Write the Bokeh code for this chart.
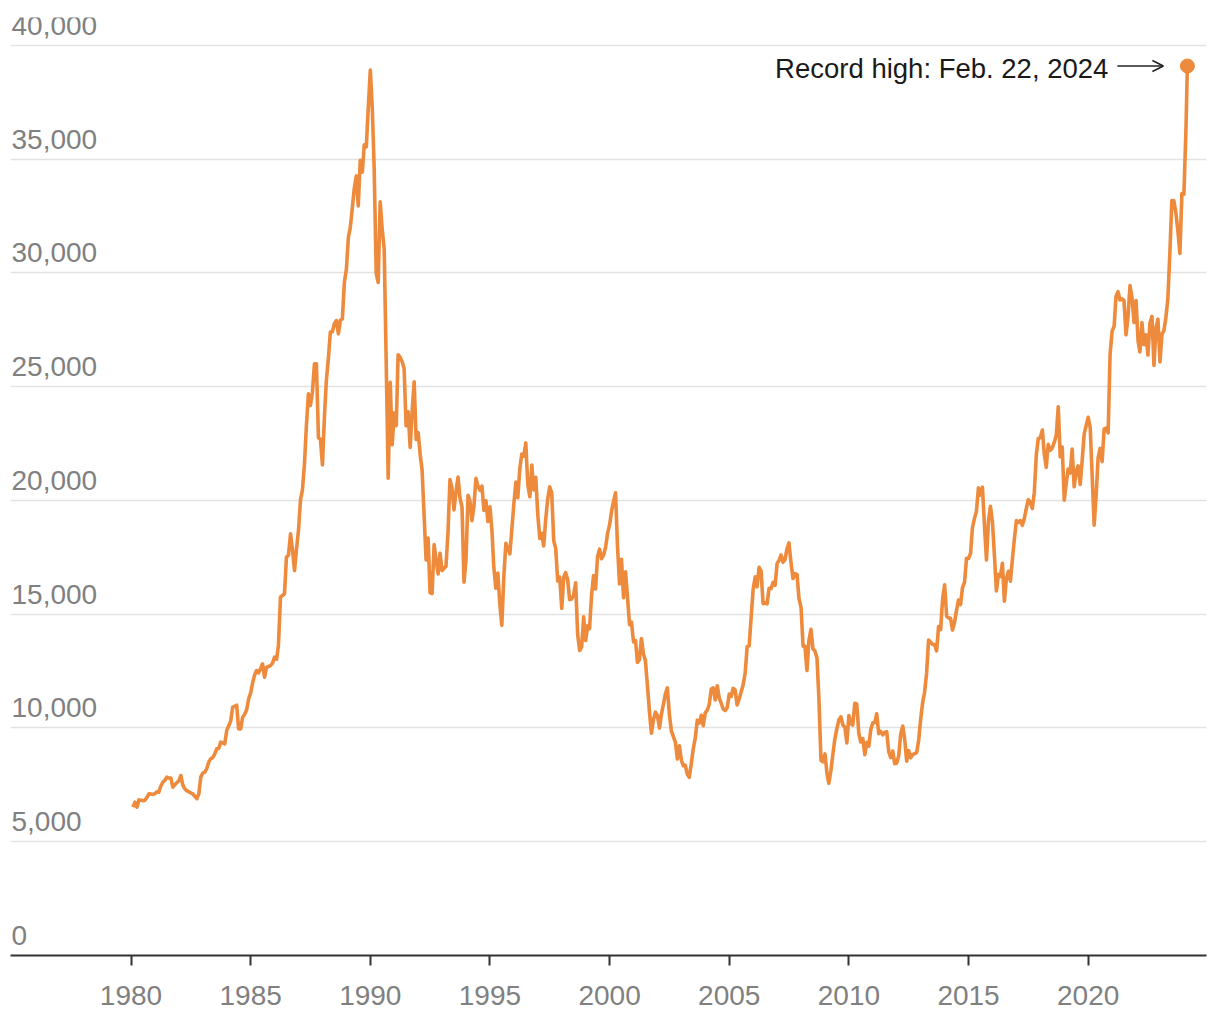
import pandas as pd
from bokeh.plotting import figure
from bokeh.models import FixedTicker, Arrow, OpenHead, Range1d
from bokeh.core.properties import value
from bokeh.embed import file_html
from bokeh.resources import INLINE

# ---- data: Nikkei 225, month-end closes (Jan 1980 .. Jan 2024) + record close Feb 22, 2024
nikkei_1980s = [
    6520, 6740, 6520, 6840, 6820, 6800, 6820, 6950, 7108, 7100, 7080, 7116,
    7200, 7180, 7450, 7617, 7700, 7838, 7800, 7800, 7400, 7500, 7600, 7681,
    7912, 7500, 7330, 7250, 7200, 7150, 7108, 7000, 6890, 7100, 7838, 8016,
    8058, 8200, 8498, 8641, 8700, 8850, 9084, 9100, 9377, 9350, 9300, 9894,
    10100, 10300, 10915, 10950, 11000, 9960, 9960, 10476, 10600, 10800, 11280, 11543,
    11992, 12321, 12527, 12427, 12600, 12820, 12233, 12670, 12700, 12750, 12850, 13113,
    13024, 13640, 15750, 15825, 15894, 17508, 17600, 18535, 17850, 16923, 17852, 18701,
    20048, 20440, 21566, 23275, 24690, 24176, 24760, 26007, 26011, 22765, 22686, 21564,
    23719, 25275, 26260, 27400, 27417, 27770, 27910, 27325, 27924, 27980, 29579, 30159,
    31581, 31985, 32839, 33713, 34266, 32948, 34954, 34431, 35636, 35549, 37269, 38916,
]
nikkei_1990s = [
    37189, 34592, 29980, 29584, 33131, 31940, 31036, 25978, 20984, 25194, 22455, 23849,
    23293, 26409, 26292, 26111, 25790, 23291, 23900, 22336, 23916, 25222, 22687, 22984,
    22024, 21339, 19346, 17391, 18348, 15952, 15910, 18061, 17399, 16767, 17684, 16925,
    17024, 17098, 18591, 20919, 20552, 19590, 20380, 21027, 20106, 19704, 16408, 17417,
    20229, 19997, 19112, 19725, 20974, 20644, 20449, 20629, 19564, 19990, 19076, 19723,
    18650, 17053, 16140, 16807, 15437, 14517, 16678, 18117, 17913, 17655, 18744, 19868,
    20813, 20125, 21407, 22041, 21956, 22531, 20693, 20167, 21556, 20466, 21020, 19361,
    18330, 18557, 18003, 19151, 20069, 20605, 20331, 18229, 17888, 16459, 16636, 15259,
    16628, 16832, 16527, 15641, 15671, 15831, 16379, 14108, 13406, 13565, 14884, 13842,
    14499, 14368, 15837, 16702, 16112, 17530, 17862, 17437, 17606, 17943, 18558, 18934,
]
nikkei_2000s = [
    19540, 19960, 20337, 17974, 16332, 17411, 15727, 16861, 15747, 14540, 14649, 13786,
    13843, 12884, 12999, 13934, 13262, 12969, 11861, 10714, 9775, 10367, 10697, 10543,
    9997, 10588, 11025, 11493, 11764, 10622, 9877, 9619, 9383, 8640, 9216, 8579,
    8340, 8363, 7973, 7831, 8425, 9083, 9563, 10344, 10219, 10560, 10101, 10677,
    10784, 11042, 11715, 11762, 11237, 11859, 11326, 11082, 10824, 10771, 10899, 11489,
    11388, 11741, 11669, 11009, 11277, 11584, 11900, 12414, 13574, 13607, 14872, 16111,
    16650, 16205, 17060, 16906, 15467, 15505, 15457, 16141, 16128, 16399, 16274, 17226,
    17383, 17604, 17288, 17400, 17876, 18138, 17249, 16569, 16786, 16738, 15681, 15308,
    13592, 13603, 12526, 13850, 14339, 13482, 13377, 13073, 11260, 8577, 8512, 8860,
    7994, 7568, 8110, 8828, 9523, 9958, 10357, 10493, 10133, 10035, 9346, 10546,
]
nikkei_2010s = [
    10198, 10126, 11090, 11057, 9769, 9383, 9537, 8824, 9369, 9202, 9937, 10229,
    10238, 10624, 9755, 9850, 9694, 9816, 9833, 8955, 8700, 8988, 8435, 8455,
    8803, 9723, 10083, 9521, 8543, 9007, 8695, 8840, 8870, 8928, 9446, 10395,
    11139, 11559, 12398, 13861, 13775, 13677, 13668, 13389, 14456, 14328, 15662, 16291,
    14915, 14841, 14828, 14304, 14632, 15162, 15621, 15425, 16174, 16414, 17460, 17451,
    17674, 18798, 19207, 19520, 20563, 20236, 20585, 18890, 17388, 19083, 19747, 19034,
    17518, 16027, 16759, 16666, 17235, 15576, 16569, 16887, 16450, 17425, 18308, 19114,
    19041, 19119, 18909, 19197, 19651, 20033, 19925, 19646, 20356, 22012, 22725, 22765,
    23098, 22068, 21454, 22468, 22202, 22305, 22554, 22865, 24120, 21920, 22351, 20015,
    20773, 21385, 21206, 22259, 20601, 21276, 21522, 20704, 21756, 22927, 23294, 23657,
]
nikkei_2020s = [
    23205, 21143, 18917, 20194, 21878, 22288, 21710, 23140, 23185, 22977, 26434, 27444,
    27663, 28966, 29179, 28813, 28860, 28792, 27284, 28090, 29453, 28893, 27822, 28792,
    27002, 26527, 27821, 26848, 27280, 26393, 27802, 28092, 25937, 27587, 27969, 26095,
    27327, 27446, 28041, 28856, 30888, 33189, 33172, 32619, 31858, 30859, 33487, 33464,
    36287, 39098,
]
first_month_end = "1980-01-31"
record_date = "2024-02-22"
record_label = "Record high: Feb. 22, 2024"

y_ticks = [0, 5000, 10000, 15000, 20000, 25000, 30000, 35000, 40000]
y_tick_labels = ["0", "5,000", "10,000", "15,000", "20,000", "25,000", "30,000", "35,000", "40,000"]
x_ticks = [1980, 1985, 1990, 1995, 2000, 2005, 2010, 2015, 2020]

# ---- build series
values = nikkei_1980s + nikkei_1990s + nikkei_2000s + nikkei_2010s + nikkei_2020s
dates = list(pd.date_range(first_month_end, periods=len(values) - 1, freq="ME")) + [pd.Timestamp(record_date)]


def decimal_year(ts):
    return ts.year + ts.dayofyear / (366.0 if ts.is_leap_year else 365.0)


xs = [decimal_year(d) for d in dates]

# ---- figure
FONT = "Liberation Sans"
W, H = 1214, 1015
BL, BR, BT, BB = 10, 8, 17, 60
X0, X1 = 1974.964, 2024.944
p = figure(
    width=W, height=H,
    x_range=Range1d(X0, X1), y_range=Range1d(0, 41230),
    output_backend="svg", toolbar_location=None,
    y_axis_location=None,
    min_border_left=BL, min_border_right=BR, min_border_top=BT, min_border_bottom=BB,
)
p.outline_line_color = None
p.background_fill_color = "white"
p.border_fill_color = "white"

p.xgrid.visible = False
p.ygrid.ticker = FixedTicker(ticks=y_ticks)
p.ygrid.grid_line_color = "#e2e2e2"
p.ygrid.grid_line_width = 1.5

ax = p.xaxis[0]
ax.ticker = FixedTicker(ticks=x_ticks)
ax.axis_line_color = "#333333"
ax.axis_line_width = 2
ax.major_tick_line_color = "#333333"
ax.major_tick_line_width = 2
ax.major_tick_out = 10
ax.major_tick_in = 0
ax.minor_tick_out = 0
ax.minor_tick_in = 0
ax.major_label_standoff = 20
ax.major_label_text_font = FONT
ax.major_label_text_font_size = "28px"
ax.major_label_text_color = "#808080"

# y tick labels sitting above the gridlines
p.text(x=[X0] * len(y_ticks), y=y_ticks, text=y_tick_labels,
       text_font=value(FONT), text_font_size="28px", text_color="#808080",
       text_align="left", text_baseline="alphabetic", x_offset=1, y_offset=-20)

LINE_COLOR = "#ee8a3c"
p.line(xs, values, line_color=LINE_COLOR, line_width=3.6, line_join="round")
p.scatter([xs[-1]], [values[-1]], size=14, fill_color=LINE_COLOR, line_color=LINE_COLOR)

# annotation (positioned relative to the record point in screen pixels)
frame_w = W - BL - BR
px_per_year = frame_w / (X1 - X0)
p.add_layout(Arrow(
    end=OpenHead(size=11, line_color="#222222", line_width=1.5),
    x_start=xs[-1] - 70 / px_per_year, y_start=values[-1],
    x_end=xs[-1] - 24 / px_per_year, y_end=values[-1],
    line_color="#222222", line_width=1.5,
))
p.text(x=[xs[-1] - 79 / px_per_year], y=[values[-1]], text=[record_label],
       text_font=value(FONT), text_font_size="27.5px", text_color="#1a1a1a",
       text_align="right", text_baseline="alphabetic", y_offset=2)

open("out.html", "w").write(file_html(p, INLINE))
